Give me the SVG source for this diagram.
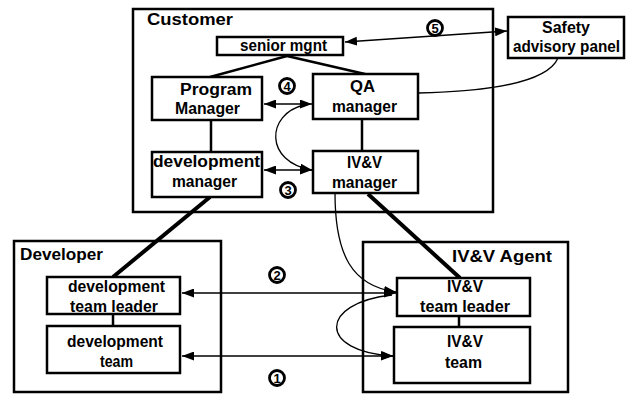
<svg xmlns="http://www.w3.org/2000/svg" width="627" height="394" viewBox="0 0 627 394">
<style>
.box{fill:#fff;stroke:#000;stroke-width:2.5}
.cont{fill:none;stroke:#000;stroke-width:2.5}
.t{font-family:"Liberation Sans",Arial,sans-serif;font-weight:bold;font-size:16px;fill:#000}
.lbl{font-family:"Liberation Sans",Arial,sans-serif;font-weight:bold;font-size:16px;fill:#000}
.thin{fill:none;stroke:#000;stroke-width:1.3}
.mid{fill:none;stroke:#000;stroke-width:2.5}
.thick{fill:none;stroke:#000;stroke-width:4}
.num circle{fill:#fff;stroke:#000;stroke-width:2.8}
.num text{font-family:"Liberation Sans",Arial,sans-serif;font-weight:bold;font-size:13px;fill:#000;text-anchor:middle}
</style>
<defs>
<marker id="ah" viewBox="0 0 12 9" refX="12" refY="4.5" markerWidth="12" markerHeight="9" orient="auto-start-reverse" markerUnits="userSpaceOnUse">
<path d="M0,0 L12,4.5 L0,9 z" fill="#000"/>
</marker>
</defs>
<rect width="627" height="394" fill="#fff"/>

<g id="customer">
<rect class="cont" x="133" y="9" width="360" height="203"/>
<text class="lbl" x="147" y="25" textLength="86" lengthAdjust="spacingAndGlyphs">Customer</text>
</g>
<g id="developer">
<rect class="cont" x="14" y="241" width="207" height="151"/>
<text class="lbl" x="20" y="260" textLength="83" lengthAdjust="spacingAndGlyphs">Developer</text>
</g>
<g id="ivv-agent">
<rect class="cont" x="363" y="242" width="205" height="150"/>
<text class="lbl" x="452" y="262" textLength="100" lengthAdjust="spacingAndGlyphs">IV&amp;V Agent</text>
</g>

<g id="connectors">
<line class="mid" x1="287" y1="56" x2="210" y2="77"/>
<line class="mid" x1="287" y1="56" x2="365" y2="74"/>
<line class="mid" x1="211" y1="120" x2="211" y2="152"/>
<line class="mid" x1="362" y1="119" x2="362" y2="151"/>
<line class="mid" x1="113" y1="314" x2="113" y2="326"/>
<line class="mid" x1="459" y1="316" x2="459" y2="327"/>
<line class="thick" x1="210" y1="197" x2="113" y2="277"/>
<line class="thick" x1="368" y1="194" x2="460" y2="278"/>
<line class="thin" x1="264" y1="104" x2="312" y2="104" marker-start="url(#ah)" marker-end="url(#ah)"/>
<line class="thin" x1="264" y1="170" x2="312" y2="170" marker-start="url(#ah)" marker-end="url(#ah)"/>
<path class="thin" d="M304,105 C266,114 264,162 312,170" marker-end="url(#ah)"/>
<line class="thin" x1="507" y1="31" x2="345" y2="42" marker-start="url(#ah)" marker-end="url(#ah)"/>
<path class="thin" d="M418,93 C470,92 546,86 558,58"/>
<path class="thin" d="M335,193 C335,255 352,286 396,292" marker-end="url(#ah)"/>
<line class="thin" x1="182" y1="293" x2="396" y2="293" marker-start="url(#ah)" marker-end="url(#ah)"/>
<line class="thin" x1="182" y1="356" x2="393" y2="356" marker-start="url(#ah)" marker-end="url(#ah)"/>
<path class="thin" d="M392,295 C318,303 318,352 393,356" marker-end="url(#ah)"/>
</g>

<g id="senior-mgnt">
<rect class="box" x="217" y="37" width="126" height="18"/>
<text class="t" x="240" y="51" font-size="14" textLength="87" lengthAdjust="spacingAndGlyphs">senior mgnt</text>
</g>
<g id="program-manager">
<rect class="box" x="152" y="77" width="110" height="43"/>
<text class="t" x="180" y="95" textLength="72" lengthAdjust="spacingAndGlyphs">Program</text>
<text class="t" x="175" y="114" textLength="65" lengthAdjust="spacingAndGlyphs">Manager</text>
</g>
<g id="qa-manager">
<rect class="box" x="313" y="74" width="105" height="45"/>
<text class="t" x="350" y="92" textLength="25" lengthAdjust="spacingAndGlyphs">QA</text>
<text class="t" x="332" y="112" textLength="65" lengthAdjust="spacingAndGlyphs">manager</text>
</g>
<g id="development-manager">
<rect class="box" x="152" y="152" width="110" height="45"/>
<text class="t" x="153" y="167" textLength="107" lengthAdjust="spacingAndGlyphs">development</text>
<text class="t" x="172" y="187" textLength="65" lengthAdjust="spacingAndGlyphs">manager</text>
</g>
<g id="ivv-manager">
<rect class="box" x="313" y="151" width="105" height="42"/>
<text class="t" x="347" y="168" textLength="35" lengthAdjust="spacingAndGlyphs">IV&amp;V</text>
<text class="t" x="332" y="188" textLength="65" lengthAdjust="spacingAndGlyphs">manager</text>
</g>
<g id="safety-panel">
<rect class="box" x="508" y="17" width="116" height="41"/>
<text class="t" x="542" y="33" textLength="48" lengthAdjust="spacingAndGlyphs">Safety</text>
<text class="t" x="513" y="52" textLength="107" lengthAdjust="spacingAndGlyphs">advisory panel</text>
</g>
<g id="dev-team-leader">
<rect class="box" x="47" y="277" width="133" height="37"/>
<text class="t" x="68" y="292" textLength="97" lengthAdjust="spacingAndGlyphs">development</text>
<text class="t" x="70" y="312" textLength="88" lengthAdjust="spacingAndGlyphs">team leader</text>
</g>
<g id="dev-team">
<rect class="box" x="47" y="326" width="133" height="47"/>
<text class="t" x="67" y="347" textLength="96" lengthAdjust="spacingAndGlyphs">development</text>
<text class="t" x="100" y="367" textLength="33" lengthAdjust="spacingAndGlyphs">team</text>
</g>
<g id="ivv-team-leader">
<rect class="box" x="397" y="278" width="133" height="38"/>
<text class="t" x="447" y="292" textLength="36" lengthAdjust="spacingAndGlyphs">IV&amp;V</text>
<text class="t" x="420" y="312" textLength="90" lengthAdjust="spacingAndGlyphs">team leader</text>
</g>
<g id="ivv-team">
<rect class="box" x="394" y="327" width="136" height="56"/>
<text class="t" x="447" y="347" textLength="36" lengthAdjust="spacingAndGlyphs">IV&amp;V</text>
<text class="t" x="445" y="368" textLength="37" lengthAdjust="spacingAndGlyphs">team</text>
</g>

<g id="n5" class="num"><circle cx="435" cy="28" r="7.5"/><text x="435" y="32.5">5</text></g>
<g id="n4" class="num"><circle cx="287" cy="86" r="7.5"/><text x="287" y="90.5">4</text></g>
<g id="n3" class="num"><circle cx="288" cy="190" r="7.5"/><text x="288" y="194.5">3</text></g>
<g id="n2" class="num"><circle cx="277" cy="275" r="7.5"/><text x="277" y="279.5">2</text></g>
<g id="n1" class="num"><circle cx="277" cy="378" r="7.5"/><text x="277" y="382.5">1</text></g>
</svg>
